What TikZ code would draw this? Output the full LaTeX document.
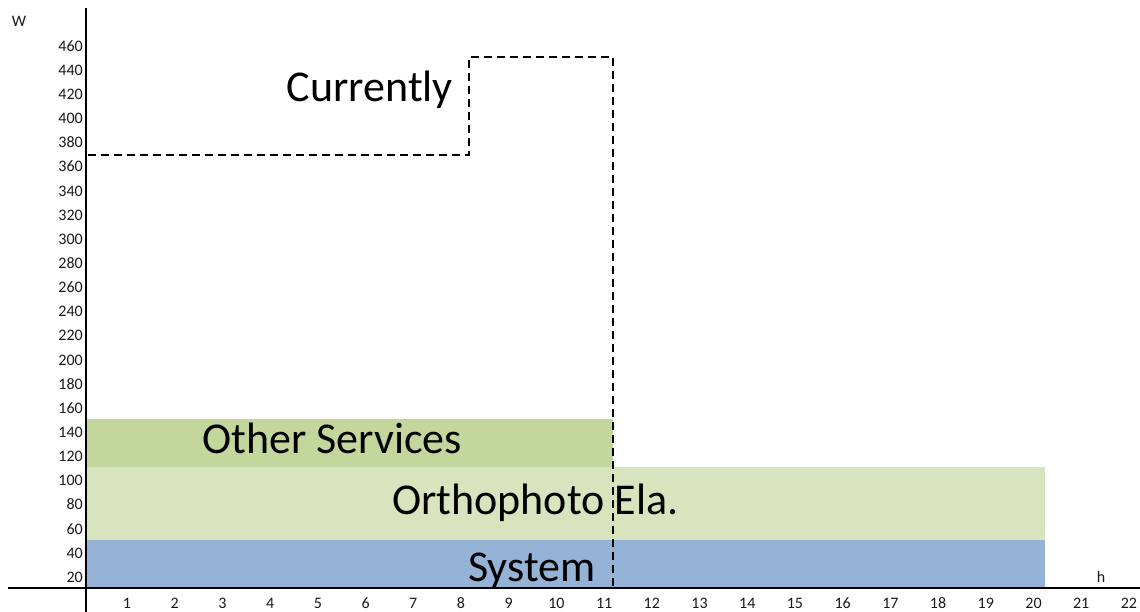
\documentclass[tikz,border=0pt]{standalone}
\usepackage{fontspec}
\setmainfont{Carlito}
\definecolor{sysblue}{HTML}{95B3D7}
\definecolor{orthogreen}{HTML}{D7E4BD}
\definecolor{othergreen}{HTML}{C3D69B}
\definecolor{ticktext}{HTML}{1A1A1A}
\begin{document}
\begin{tikzpicture}[x=1pt,y=-1pt,
  axis/.style={line width=2.4pt,black},
  ticklab/.style={font=\fontsize{16}{16}\selectfont,text=ticktext,inner sep=0pt},
  biglab/.style={font=\fontsize{44}{44}\selectfont,text=black,inner sep=0pt},
  limit/.style={line width=2.4pt,dash pattern=on 8pt off 5pt}]
\useasboundingbox (0,0) rectangle (1140,612);
% stacked consumption bands
\fill[sysblue] (86,540) rectangle (1045,588);
\fill[orthogreen] (86,467) rectangle (1045,540);
\fill[othergreen] (86,419) rectangle (613,467);
% band labels
\node[biglab,anchor=base west] (other) at (202,453) {Other Services};
\node[biglab,anchor=base west] (ortho) at (392,514) {Orthophoto Ela.};
\node[biglab,anchor=base west] (system) at (468,581) {System};
\node[biglab,anchor=base east] (curr) at (453,102) {Currently};
% current consumption profile
\coordinate (c0) at (88,155);
\coordinate (c1) at (469,155);
\coordinate (c2) at (469,57);
\coordinate (c3) at (613,57);
\coordinate (c4) at (613,588);
\draw[limit] (c0) -- (c1) -- (c2) -- (c3) -- (c4);
% axes
\coordinate (ytop) at (86,8);
\coordinate (ybot) at (86,612);
\coordinate (xl) at (8,588);
\coordinate (xr) at (1140,588);
\draw[axis] (ytop) -- (ybot);
\draw[axis] (xl) -- (xr);
% tick labels
\foreach \k in {1,...,23}{
  \pgfmathtruncatemacro{\v}{20*\k}
  \node[ticklab,anchor=base east] (y\k) at (83,{606.5-24.14*\k}) {\v};
}
\foreach \n in {1,...,22}{
  \node[ticklab,anchor=base] (x\n) at ({79.3+47.71*\n},608.5) {\n};
}
\node[ticklab,anchor=base] (wlab) at (19,27) {W};
\node[ticklab,anchor=base] (hlab) at (1101,582) {h};
\end{tikzpicture}
\end{document}
